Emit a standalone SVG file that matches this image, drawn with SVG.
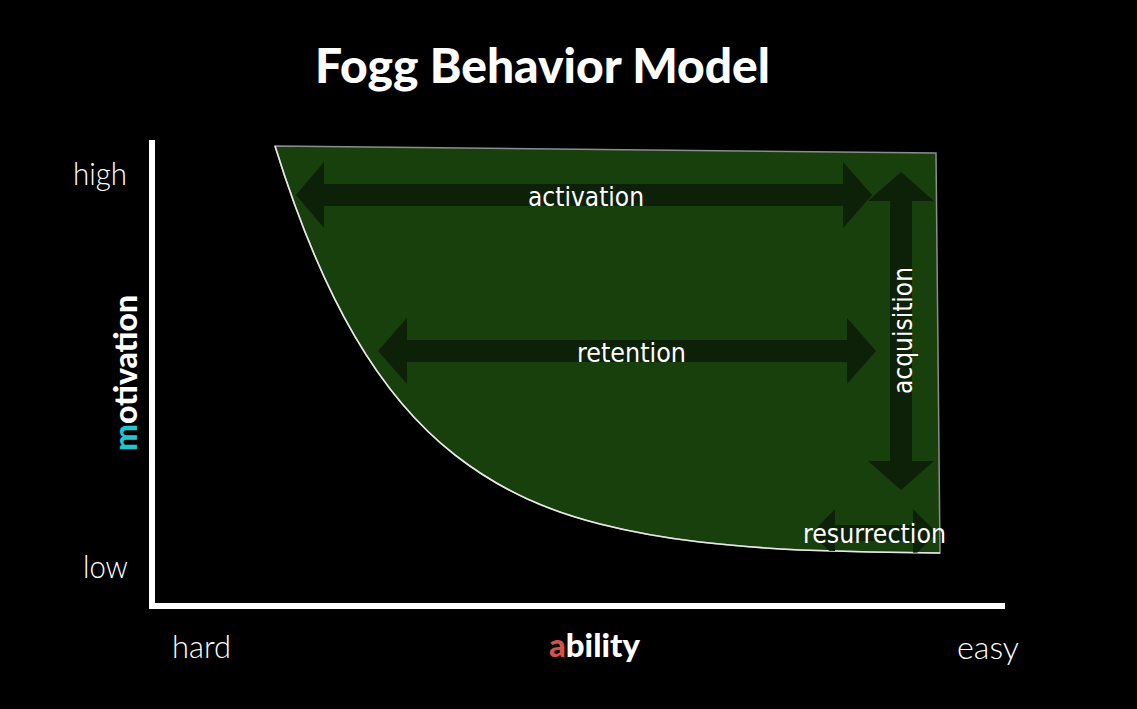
<svg xmlns="http://www.w3.org/2000/svg" width="1137" height="709" viewBox="0 0 1137 709">
  <style>
    .title { font-family: Lato, "Open Sans", "DejaVu Sans", sans-serif; font-weight: 900; font-size: 48px; fill: #ffffff; }
    .tick { font-family: Lato, "Open Sans", "DejaVu Sans", sans-serif; font-weight: 300; font-size: 32px; fill: #ffffff; }
    .axisname { font-family: Lato, "Open Sans", "DejaVu Sans", sans-serif; font-weight: 900; font-size: 32px; fill: #ffffff; }
    .lbl { font-family: "DejaVu Sans Condensed", "DejaVu Sans", sans-serif; font-size: 27px; fill: #ffffff; }
    .arrow { fill: #0d2008; }
    .axis { stroke: #ffffff; stroke-width: 6; fill: none; }
  </style>
  <defs>
    <path id="zone" d="M275,146 L936,153 L940,553 C893,552.5 847,551.5 800,550 C733,546.5 667,541 600,524 C551.7,511.8 503.3,492.7 455,455 C421.7,429 388.3,393.5 355,336.6 C328.3,291.1 301.7,232 275,146 Z"/>
    <clipPath id="zoneClip"><use href="#zone"/></clipPath>
  </defs>
  <rect width="1137" height="709" fill="#000000"/>

  <text class="title" x="315" y="83" textLength="455" lengthAdjust="spacingAndGlyphs">Fogg Behavior Model</text>

  <g id="zone-area">
    <use href="#zone" fill="#17400c" stroke="#8c8c8c" stroke-width="1.5"/>
    <path d="M940,553 C893,552.5 847,551.5 800,550 C733,546.5 667,541 600,524 C551.7,511.8 503.3,492.7 455,455 C421.7,429 388.3,393.5 355,336.6 C328.3,291.1 301.7,232 275,146" fill="none" stroke="#e8e8e8" stroke-width="1.6"/>
  </g>

  <g id="connectors" clip-path="url(#zoneClip)">
    <polygon id="activation-arrow" class="arrow" points="296,195 324,162 324,184 843,184 843,162 872,195 843,228 843,206 324,206 324,228"/>
    <polygon id="retention-arrow" class="arrow" points="378,351 407,318 407,340 847,340 847,318 876,351 847,384 847,362 407,362 407,384"/>
    <polygon id="acquisition-arrow" class="arrow" points="901,172 934,201 912,201 912,461 934,461 901,490 868,461 890,461 890,201 868,201"/>
    <polygon id="resurrection-arrow" class="arrow" points="812,533 835,509 835,525 913,525 913,509 937,533 913,557 913,541 835,541 835,557"/>
  </g>

  <g id="activation"><text class="lbl" x="586" y="206" text-anchor="middle" textLength="116" lengthAdjust="spacingAndGlyphs">activation</text></g>
  <g id="retention"><text class="lbl" x="631.5" y="362" text-anchor="middle" textLength="109" lengthAdjust="spacingAndGlyphs">retention</text></g>
  <g id="acquisition"><text class="lbl" transform="translate(912,330.5) rotate(-90)" x="0" y="0" text-anchor="middle" textLength="127" lengthAdjust="spacingAndGlyphs">acquisition</text></g>
  <g id="resurrection"><text class="lbl" x="874.5" y="543" text-anchor="middle" textLength="143" lengthAdjust="spacingAndGlyphs">resurrection</text></g>

  <g id="axes">
    <polyline class="axis" points="152,140 152,606 1005,606"/>
  </g>

  <g id="y-axis-labels">
    <text class="tick" x="73" y="185" textLength="54" lengthAdjust="spacingAndGlyphs">high</text>
    <text class="tick" x="83" y="578" textLength="45" lengthAdjust="spacingAndGlyphs">low</text>
    <text class="axisname" transform="translate(137,451) rotate(-90)" x="0" y="0" textLength="156" lengthAdjust="spacingAndGlyphs"><tspan fill="#22c4cf">m</tspan>otivation</text>
  </g>
  <g id="x-axis-labels">
    <text class="tick" x="172" y="658" textLength="59" lengthAdjust="spacingAndGlyphs">hard</text>
    <text class="tick" x="957" y="659" textLength="62" lengthAdjust="spacingAndGlyphs">easy</text>
    <text class="axisname" x="549" y="657" textLength="91" lengthAdjust="spacingAndGlyphs"><tspan fill="#d0534d">a</tspan>bility</text>
  </g>
</svg>
